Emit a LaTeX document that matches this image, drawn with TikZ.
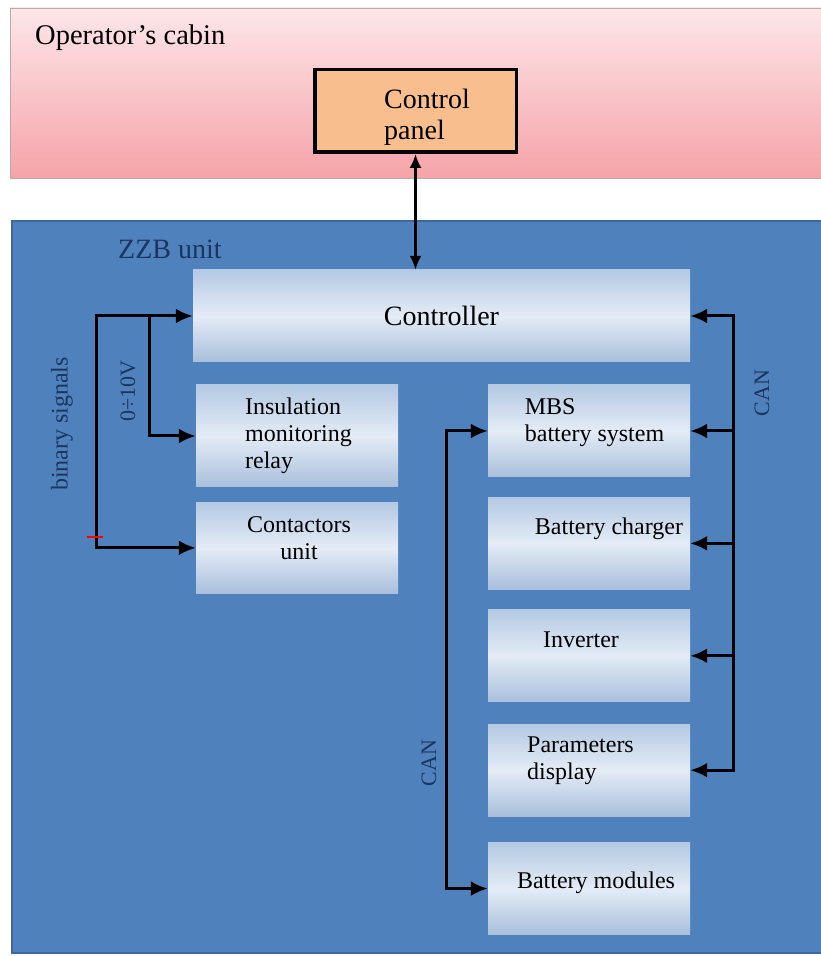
\documentclass[tikz,border=0pt]{standalone}
\usepackage{fontspec}
\setmainfont{Liberation Serif}
\usetikzlibrary{arrows.meta, positioning}
\definecolor{cabinTop}{HTML}{FDE6E9}
\definecolor{cabinBot}{HTML}{F5A3A8}
\definecolor{cabinLine}{HTML}{BFA8A8}
\definecolor{panelFill}{HTML}{F8BE8D}
\definecolor{zzbFill}{HTML}{4F81BD}
\definecolor{zzbLine}{HTML}{3D6899}
\definecolor{zzbText}{HTML}{1C355E}
\definecolor{blockTop}{HTML}{B4C9E3}
\definecolor{blockMid}{HTML}{E4ECF6}
\definecolor{blockBot}{HTML}{A9BFDC}
\pgfdeclareverticalshading{blockShade}{100bp}{color(0bp)=(blockBot); color(25bp)=(blockBot); color(50bp)=(blockMid); color(75bp)=(blockTop); color(100bp)=(blockTop)}
\tikzset{tip/.tip = {Latex[length=17pt, width=15pt]}}
\begin{document}
\begin{tikzpicture}[x = 1pt, y = 1pt,
    block/.style = {inner sep = 0pt, minimum width = \boxw pt, minimum height = \boxh pt, shading = blockShade},
    label/.style = {inner sep = 0pt, align = left, font = \fontsize{24}{27}\selectfont},
    side/.style = {inner sep = 0pt, rotate = 90, text = zzbText, font = \fontsize{22}{24}\selectfont},
    wire/.style = {line width = 3pt}]
    % Parameters
    \pgfmathsetmacro{\boxw}{202}
    \pgfmathsetmacro{\boxh}{92}
    \pgfmathsetmacro{\gap}{20}
    \useasboundingbox (0,0) rectangle (820,956);
    % Operator's cabin
    \path[draw = cabinLine, top color = cabinTop, bottom color = cabinBot] (10,778) rectangle (830,948);
    \node[anchor = base west, inner sep = 0pt, font = \fontsize{28.5}{32}\selectfont] (cabin) at (35,911) {Operator’s cabin};
    \node[draw, line width = 3.5pt, fill = panelFill, minimum width = 201.5pt, minimum height = 82.5pt] (cp) at (415.5,845) {};
    \node[inner sep = 0pt, align = left, font = \fontsize{28}{31}\selectfont] (cpText) at (427,839) {Control\\panel};
    % ZZB unit
    \path[draw = zzbLine, line width = 2pt, fill = zzbFill] (12,3) rectangle (830,735);
    \node[anchor = base west, inner sep = 0pt, text = zzbText, font = \fontsize{28}{32}\selectfont] (zzb) at (118,697) {ZZB unit};
    % Blocks
    \node[block, minimum width = 497pt, font = \fontsize{28}{31}\selectfont] (ctrl) at (441.5,640) {Controller};
    \node[block, minimum height = 102pt] (ins) at (297,520) {};
    \node[block, minimum height = 91pt, below = 15pt of ins] (cnt) {};
    \node[block] (mbs) at (589,525) {};
    \node[block, below = \gap pt of mbs] (chg) {};
    \node[block, below = \gap pt of chg] (inv) {};
    \node[block, below = 22pt of inv] (par) {};
    \node[block, below = 26pt of par] (mod) {};
    \node[label] (insText) at (298.5,520) {Insulation\\monitoring\\relay};
    \node[label, align = center] (cntText) at (299,418) {Contactors\\unit};
    \node[label] (mbsText) at (594.5,533) {MBS\\battery system};
    \node[label] (chgText) at (609,427) {Battery charger};
    \node[label] (invText) at (581,316) {Inverter};
    \node[label] (parText) at (580.5,195) {Parameters\\display};
    \node[label] (modText) at (596,73) {Battery modules};
    % Connections
    \draw[line width = 2.5pt, {Latex[length=14pt, width=12pt]}-{Latex[length=14pt, width=12pt]}] (cp.south) -- (cp.south |- ctrl.north);
    \draw[wire, tip-tip] (ctrl.west) -- ++(-96,0) coordinate (bin) |- (cnt.west);
    \draw[wire, -tip] ([xshift = -43pt]ctrl.west) |- (ins.west);
    \draw[wire, tip-tip] (ctrl.east) -- ++(43,0) coordinate (canR) |- (par.east);
    \foreach \n in {mbs, chg, inv}
        \draw[wire, -tip] (canR |- \n.east) -- (\n.east);
    \draw[wire, tip-tip] (mbs.west) -- ++(-41,0) |- (mod.west);
    \draw[red, line width = 1.2pt] (87,419) -- (103,419);
    % Signal names
    \node[side, font = \fontsize{24}{26}\selectfont] (binText) at (62,532) {binary signals};
    \node[side] (voltText) at (128,565) {0÷10V};
    \node[side] (canRText) at (762,563) {CAN};
    \node[side] (canLText) at (429,193) {CAN};
\end{tikzpicture}
\end{document}
